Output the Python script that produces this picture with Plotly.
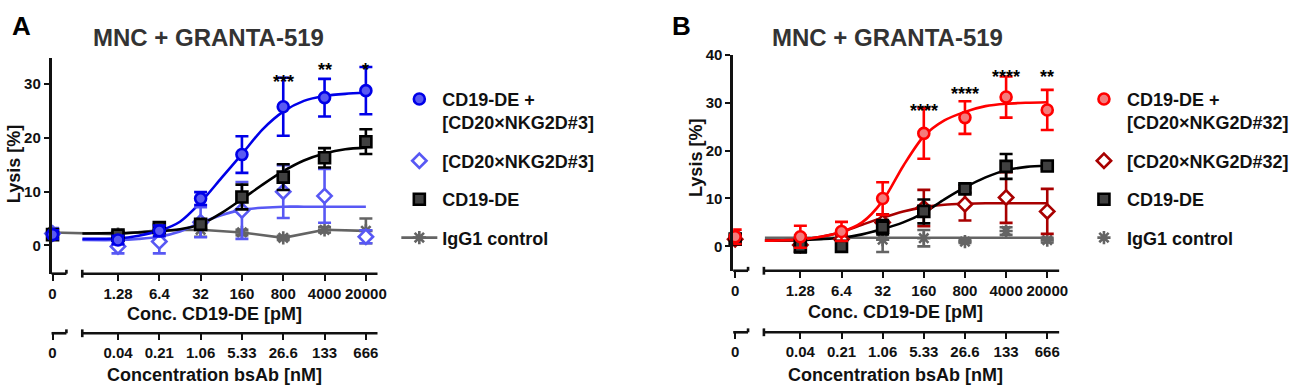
import math
import plotly.graph_objects as go

W, H = 1299, 386
FONT = "Liberation Sans, Arial, sans-serif"

# ---------------- data ----------------
conc_pM = [0, 1.28, 6.4, 32, 160, 800, 4000, 20000]
pM_labels = ["0", "1.28", "6.4", "32", "160", "800", "4000", "20000"]
nM_labels = ["0", "0.04", "0.21", "1.06", "5.33", "26.6", "133", "666"]
ZERO_POS = 0.1  # where "0" sits on the log axis (broken-axis segment)

fit_conc = [0.32, 1.28, 2.86, 6.4, 14.3, 32, 71.6, 160, 358, 800, 1789, 4000, 8944, 20000]

# Panel A (CD20xNKG2D#3)
a_combo = [2.0, 1.0, 2.7, 8.7, 16.9, 25.8, 27.5, 28.8]
a_combo_err = [0.8, 0.8, 1.0, 1.2, 3.4, 5.4, 3.5, 4.4]
a_bsab = [2.2, -0.2, 0.7, 4.3, 6.5, 10.0, 9.2, 1.6]
a_bsab_err = [1.0, 1.3, 2.2, 2.8, 5.3, 4.9, 5.0, 1.2]
a_cd19 = [2.0, 1.9, 3.3, 3.9, 9.0, 12.7, 16.3, 19.3]
a_cd19_err = [0.5, 0.5, 0.6, 0.8, 2.3, 2.4, 1.8, 2.3]
a_igg = [2.4, 2.1, 2.8, 2.9, 2.4, 1.4, 2.9, 2.7]
a_igg_err = [0.5, 0.5, 0.5, 1.3, 0.5, 0.4, 0.5, 2.3]
a_combo_fit = [1.2, 1.3, 1.8, 2.7, 4.4, 8.0, 12.5, 17.0, 21.6, 24.9, 26.9, 27.8, 28.2, 28.4]
a_cd19_fit = [2.2, 2.3, 2.4, 2.6, 3.0, 3.9, 6.0, 8.6, 11.3, 13.8, 15.8, 17.1, 17.9, 18.2]
a_bsab_fit = [1.0, 1.0, 1.2, 1.6, 2.6, 4.2, 5.6, 6.6, 7.0, 7.2, 7.2, 7.2, 7.2, 7.2]
a_sig = ["", "", "", "", "", "***", "**", "*"]

# Panel B (CD20xNKG2D#32)
b_combo = [2.0, 2.0, 3.1, 10.0, 23.6, 26.9, 31.2, 28.5]
b_combo_err = [1.5, 2.3, 2.0, 3.4, 5.3, 3.4, 4.3, 4.2]
b_bsab = [1.5, 0.3, 1.5, 5.0, 8.0, 8.8, 10.2, 7.3]
b_bsab_err = [1.0, 1.3, 1.0, 1.7, 3.8, 3.4, 5.3, 4.7]
b_cd19 = [1.5, 0.0, 0.0, 4.0, 7.3, 12.0, 16.7, 16.8]
b_cd19_err = [1.0, 1.3, 0.5, 1.5, 2.5, 0.8, 2.6, 0.6]
b_igg = [2.2, 1.8, 1.8, 1.4, 1.7, 1.0, 3.2, 1.3]
b_igg_err = [0.5, 0.5, 0.3, 2.6, 1.7, 0.3, 0.8, 0.5]
b_combo_fit = [1.2, 1.4, 2.0, 3.0, 5.0, 9.5, 16.8, 23.0, 26.3, 28.1, 29.3, 29.8, 30.0, 30.1]
b_cd19_fit = [1.2, 1.3, 1.5, 1.8, 2.5, 3.6, 5.0, 7.0, 9.8, 12.3, 14.4, 15.9, 16.6, 16.9]
b_bsab_fit = [1.2, 1.4, 2.0, 3.0, 4.5, 6.0, 7.3, 8.2, 8.7, 8.9, 9.0, 9.0, 9.0, 9.0]
b_igg_fit = [1.8, 1.8, 1.8, 1.8, 1.8, 1.8, 1.8, 1.8, 1.8, 1.8, 1.8, 1.8, 1.8, 1.8]
b_sig = ["", "", "", "", "****", "****", "****", "**"]

# ---------------- helpers ----------------
def pxx(p):
    return p / W


def pxy(p):
    return 1 - p / H


x_pts = [ZERO_POS if c == 0 else c for c in conc_pM]

fig = go.Figure()

BLUE, BLUE_FILL, LBLUE = "#0000E8", "#5A5AF2", "#5858F4"
RED, RED_FILL, DRED = "#FF0000", "#F47C7C", "#A80000"
BLACK, SQ_FILL, GRAY = "#000000", "#404040", "#646464"


def fit_line(y, color, xa, ya):
    fig.add_trace(go.Scatter(x=fit_conc, y=y, mode="lines", line=dict(color=color, width=2.6, shape="spline", smoothing=0.8),
                             xaxis=xa, yaxis=ya, showlegend=False, hoverinfo="skip"))


def pts(y, err, name, symbol, fill, edge, xa, ya, legend, rank, line=False, size=11):
    fig.add_trace(go.Scatter(
        x=x_pts, y=y, name=name, mode="lines+markers" if line else "markers",
        line=dict(color=edge, width=2.6),
        marker=dict(symbol=symbol, size=size, color=fill, line=dict(color=edge, width=2.6)),
        error_y=dict(type="data", array=err, color=edge, thickness=2.6, width=6.5),
        xaxis=xa, yaxis=ya, legend=legend, legendgroup=legend + name, legendrank=rank,
        cliponaxis=False, hoverinfo="skip"))


# Panel A
pts(a_igg, a_igg_err, "IgG1 control", "asterisk", GRAY, GRAY, "x", "y", "legend", 4, line=True, size=11)
fit_line(a_bsab_fit, LBLUE, "x", "y")
fit_line(a_cd19_fit, BLACK, "x", "y")
fit_line(a_combo_fit, BLUE, "x", "y")
pts(a_bsab, a_bsab_err, "[CD20×NKG2D#3]", "diamond", "white", LBLUE, "x", "y", "legend", 2)
pts(a_cd19, a_cd19_err, "CD19-DE", "square", SQ_FILL, BLACK, "x", "y", "legend", 3)
pts(a_combo, a_combo_err, "CD19-DE +<br>[CD20×NKG2D#3]", "circle", BLUE_FILL, BLUE, "x", "y", "legend", 1)

# Panel B
fit_line(b_igg_fit, GRAY, "x2", "y2")
pts(b_igg, b_igg_err, "IgG1 control", "asterisk", GRAY, GRAY, "x2", "y2", "legend2", 4, size=11)
fit_line(b_bsab_fit, DRED, "x2", "y2")
fit_line(b_cd19_fit, BLACK, "x2", "y2")
fit_line(b_combo_fit, RED, "x2", "y2")
pts(b_bsab, b_bsab_err, "[CD20×NKG2D#32]", "diamond", "white", DRED, "x2", "y2", "legend2", 2)
pts(b_cd19, b_cd19_err, "CD19-DE", "square", SQ_FILL, BLACK, "x2", "y2", "legend2", 3)
pts(b_combo, b_combo_err, "CD19-DE +<br>[CD20×NKG2D#32]", "circle", RED_FILL, RED, "x2", "y2", "legend2", 1)

# empty traces so that the secondary (nM) axes get drawn
fig.add_trace(go.Scatter(x=[], y=[], xaxis="x3", yaxis="y", showlegend=False))
fig.add_trace(go.Scatter(x=[], y=[], xaxis="x4", yaxis="y2", showlegend=False))

TICKF = dict(family=FONT, size=15, color="#111111", weight="bold")


def xaxis_common(dom_l, dom_r, zero_px, scale_px, ticktext):
    lo = math.log10(ZERO_POS) - (zero_px - dom_l) / scale_px
    hi = math.log10(ZERO_POS) + (dom_r - zero_px) / scale_px
    return dict(type="log", range=[lo, hi], tickmode="array", tickvals=x_pts, ticktext=ticktext,
                showline=False, showgrid=False, zeroline=False, ticks="outside", ticklen=6, tickwidth=2,
                tickcolor="#111111", tickfont=TICKF)


# panel geometry in pixels
A = dict(l=49, r=378, zero=50, scale=59.66, axis_y=271, axis2_y=332, top=50, y0=242, y10=55.0)
B = dict(l=737, r=1066, zero=739, scale=59.42, axis_y=268, axis2_y=331, top=47, y0=243, y10=49.0)


def yrange(P):
    return [-(P["axis_y"] - P["y0"]) / P["y10"] * 10, (P["y0"] - P["top"]) / P["y10"] * 10]


xa = xaxis_common(A["l"], A["r"], A["zero"], A["scale"], pM_labels)
xa.update(domain=[pxx(A["l"]), pxx(A["r"])], anchor="y")
xa3 = xaxis_common(A["l"], A["r"], A["zero"], A["scale"], nM_labels)
xa3.update(overlaying="x", anchor="free", position=pxy(A["axis2_y"]))
xb = xaxis_common(B["l"], B["r"], B["zero"], B["scale"], pM_labels)
xb.update(domain=[pxx(B["l"]), pxx(B["r"])], anchor="y2")
xb4 = xaxis_common(B["l"], B["r"], B["zero"], B["scale"], nM_labels)
xb4.update(overlaying="x2", anchor="free", position=pxy(B["axis2_y"]))

YAX = dict(showline=True, linewidth=2.6, linecolor="#111111", ticks="outside", ticklen=5, tickwidth=2,
           tickcolor="#111111", showgrid=False, zeroline=False, tickfont=TICKF)
ya = dict(YAX, domain=[pxy(A["axis_y"]), pxy(A["top"])], range=yrange(A), tickvals=[0, 10, 20, 30], anchor="x")
yb = dict(YAX, domain=[pxy(B["axis_y"]), pxy(B["top"])], range=yrange(B), tickvals=[0, 10, 20, 30, 40], anchor="x2")

# broken x-axis lines (zero segment + main segment) for both axis rows
shapes = []
for P in (A, B):
    for ay in (P["axis_y"], P["axis2_y"]):
        zr = P["l"] + 15
        ml = P["l"] + 31
        segs = [(P["l"], ay, zr, ay), (zr, ay - 4, zr, ay), (ml, ay, P["r"], ay), (ml, ay - 4, ml, ay + 4)]
        for x0, y0, x1, y1 in segs:
            shapes.append(dict(type="line", xref="paper", yref="paper", x0=pxx(x0), x1=pxx(x1),
                               y0=pxy(y0), y1=pxy(y1), line=dict(color="#111111", width=2.6)))

ann = []


def text(x, y, s, size, color="#111111", angle=0, xanchor="center"):
    ann.append(dict(x=pxx(x), y=pxy(y), xref="paper", yref="paper", text=s, showarrow=False, textangle=angle,
                    xanchor=xanchor, yanchor="middle",
                    font=dict(family=FONT, size=size, color=color, weight="bold")))


text(19, 17, "A", 26, "#000000")
text(685, 17, "B", 26, "#000000")
text(207, 29, "MNC + GRANTA-519", 24, "#333333")
text(893, 29, "MNC + GRANTA-519", 24, "#333333")
text(11, 159, "Lysis [%]", 18, angle=-90)
text(700, 153, "Lysis [%]", 18, angle=-90)
text(213, 312, "Conc. CD19-DE [pM]", 18)
text(213, 375, "Concentration bsAb [nM]", 18)
text(901, 310, "Conc. CD19-DE [pM]", 18)
text(901, 375, "Concentration bsAb [nM]", 18)

# significance stars, placed at the concentrations they belong to
a_sig_y = [0, 0, 0, 0, 0, 62, 50, 50]
b_sig_y = [0, 0, 0, 0, 92, 75, 57, 57]
for c, s, py in zip(conc_pM, a_sig, a_sig_y):
    if s:
        ann.append(dict(x=math.log10(c), xref="x", y=pxy(py), yref="paper", text=s, showarrow=False,
                        font=dict(family=FONT, size=18, color="#000000", weight="bold")))
for c, s, py in zip(conc_pM, b_sig, b_sig_y):
    if s:
        ann.append(dict(x=math.log10(c), xref="x2", y=pxy(py), yref="paper", text=s, showarrow=False,
                        font=dict(family=FONT, size=18, color="#000000", weight="bold")))

LEG = dict(xanchor="left", yanchor="top", traceorder="grouped", tracegroupgap=12, valign="top",
           bgcolor="rgba(0,0,0,0)", font=dict(family=FONT, size=18, color="#111111", weight="bold"),
           itemwidth=36)

fig.update_layout(
    width=W, height=H, margin=dict(l=0, r=0, t=0, b=0),
    paper_bgcolor="white", plot_bgcolor="white",
    xaxis=xa, xaxis3=xa3, xaxis2=xb, xaxis4=xb4, yaxis=ya, yaxis2=yb,
    shapes=shapes, annotations=ann,
    legend=dict(LEG, x=pxx(397), y=pxy(73.5)),
    legend2=dict(LEG, x=pxx(1088), y=pxy(73.5)),
    font=dict(family=FONT),
)

fig.write_html("out.html", config={"displayModeBar": False},
               post_script="document.body.style.margin='0';document.body.style.padding='0';"
                           "document.body.style.overflow='hidden';")
